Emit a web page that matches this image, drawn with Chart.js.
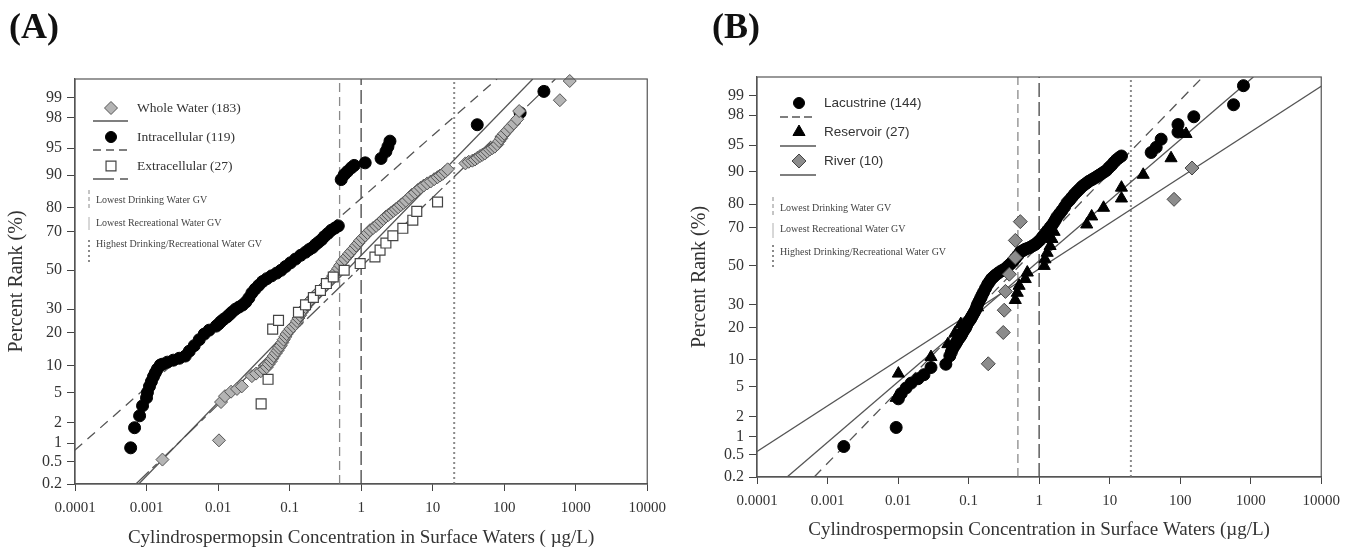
<!DOCTYPE html>
<html>
<head>
<meta charset="utf-8">
<style>
html, body { margin: 0; padding: 0; background: #fff; }
body { width: 1348px; height: 553px; position: relative; overflow: hidden; font-family: 'Liberation Serif', 'Times New Roman', serif; }
.panel { position: absolute; top: 0; }
.tag { position: absolute; top: 6px; font-weight: bold; font-size: 36px; line-height: 40px; color: #111; }
</style>
<script src="https://cdn.jsdelivr.net/npm/chart.js@4.4.1/dist/chart.umd.min.js"></script>
</head>
<body>
<div class="panel" style="left:0;width:674px;height:553px"><canvas id="chartA" width="674" height="553"></canvas></div>
<div class="panel" style="left:680px;width:668px;height:553px"><canvas id="chartB" width="668" height="553"></canvas></div>
<div class="tag" style="left:9px">(A)</div>
<div class="tag" style="left:712px">(B)</div>
<script>
// axis ticks
const yTickPct = [0.2, 0.5, 1, 2, 5, 10, 20, 30, 50, 70, 80, 90, 95, 98, 99];
const yTickLabels = ['0.2', '0.5', '1', '2', '5', '10', '20', '30', '50', '70', '80', '90', '95', '98', '99'];
const yRangePct = [0.2, 99.5];
const xTicks = [0.0001, 0.001, 0.01, 0.1, 1, 10, 100, 1000, 10000];
const xTickLabels = ['0.0001', '0.001', '0.01', '0.1', '1', '10', '100', '1000', '10000'];

// guideline values (ug/L)
const gvValues = [0.5, 1, 20];
const gvLabels = ['Lowest Drinking Water GV', 'Lowest Recreational Water GV', 'Highest Drinking/Recreational Water GV'];

// (A) whole water
const wholeConc = [0.00167, 0.0103, 0.011, 0.0125, 0.0152, 0.0184, 0.0215, 0.0297, 0.034, 0.0396,
    0.044, 0.048, 0.051, 0.0545, 0.057, 0.06, 0.064, 0.068, 0.071, 0.075,
    0.079, 0.0826, 0.087, 0.0908, 0.097, 0.103, 0.112, 0.121, 0.127, 0.133,
    0.14, 0.147, 0.157, 0.167, 0.175, 0.184, 0.2, 0.215, 0.233, 0.253,
    0.275, 0.297, 0.32, 0.348, 0.378, 0.408, 0.44, 0.48, 0.51, 0.545,
    0.59, 0.64, 0.68, 0.726, 0.79, 0.852, 0.91, 0.968, 1.05, 1.14,
    1.23, 1.33, 1.47, 1.62, 1.76, 1.9, 2.05, 2.22, 2.4, 2.61,
    2.83, 3.06, 3.3, 3.59, 3.9, 4.22, 4.65, 5.11, 5.65, 6.19,
    6.8, 7.5, 8.4, 9.38, 10.5, 11.7, 12.7, 13.8, 15, 16.2,
    28.7, 32, 35.9, 39, 42.2, 46, 49.5, 53.5, 58, 63,
    68.1, 74, 80, 85, 90.9, 95, 100, 110, 121, 136,
    152, 162, 600, 825];
const wholePct = [0.54, 1.1, 3.8, 4.5, 5.1, 5.5, 5.9, 7.7, 8.2, 8.7,
    9.1, 9.6, 10.3, 11, 11.7, 12.4, 13.2, 14, 14.8, 15.5,
    16.5, 17.5, 18.5, 19.5, 20.5, 21.5, 22.5, 23.4, 24.7, 26,
    27.2, 28.5, 29.8, 31, 32.2, 33.4, 34.7, 36, 37.2, 38.5,
    39.8, 41, 42.2, 43.5, 45.2, 47, 49, 51, 52.7, 54.5,
    56, 57.5, 58.8, 60, 61.5, 63, 64.2, 65.5, 66.8, 68,
    69.2, 70.5, 71.5, 72.5, 73.5, 74.5, 75.5, 76.5, 77.2, 78,
    78.8, 79.5, 80.2, 81, 81.8, 82.5, 83.5, 84.5, 85.2, 86,
    86.7, 87.3, 87.9, 88.4, 89, 89.5, 89.9, 90.3, 90.8, 91.3,
    92.5, 92.8, 93, 93.2, 93.5, 93.8, 94, 94.2, 94.5, 94.8,
    95, 95.2, 95.5, 95.9, 96.2, 96.5, 96.7, 97, 97.3, 97.6,
    97.9, 98.4, 98.9, 99.46];

// (A) intracellular
const intraConc = [0.0006, 0.00068, 0.0008, 0.00088, 0.001, 0.00103, 0.0011, 0.00117, 0.00125, 0.00133,
    0.00142, 0.00156, 0.00167, 0.00196, 0.00237, 0.00287, 0.00348, 0.00396, 0.00464, 0.00545,
    0.0064, 0.0075, 0.0094, 0.0102, 0.011, 0.012, 0.0133, 0.0144, 0.0156, 0.0175,
    0.0196, 0.022, 0.0245, 0.027, 0.0297, 0.033, 0.0371, 0.042, 0.048, 0.056,
    0.066, 0.076, 0.088, 0.103, 0.121, 0.143, 0.167, 0.188, 0.209, 0.23,
    0.253, 0.28, 0.306, 0.343, 0.383, 0.43, 0.48, 0.527, 0.58, 0.64,
    0.726, 0.8, 1.14, 1.9, 2.22, 2.37, 2.53, 42, 167, 359];
const intraPct = [0.84, 1.7, 2.5, 3.4, 4.3, 5.0, 5.9, 6.7, 7.6, 8.4,
    9.2, 10.1, 10.3, 10.8, 11.3, 11.8, 12.4, 13.8, 15.5, 17.5,
    19.5, 21, 22.6, 23.5, 24.5, 25.5, 26.5, 27.5, 28.6, 30,
    31, 32, 33.5, 35.5, 38, 40, 42, 44, 45.5, 47,
    48.5, 50, 52, 54, 56, 58, 59.6, 61, 62, 63.5,
    64.7, 66, 67.5, 69, 70.5, 71.5, 72.5, 88.9, 90.1, 90.8,
    91.6, 92.1, 92.6, 93.4, 94.5, 95.2, 95.9, 97.5, 98.3, 99.2];

// (A) extracellular
const extraConc = [0.04, 0.05, 0.058, 0.07, 0.133, 0.167, 0.215, 0.27, 0.327, 0.408,
    0.58, 0.97, 1.56, 1.84, 2.22, 2.78, 3.83, 5.28, 6.0, 11.7];
const extraPct = [3.6, 7.1, 21.4, 25, 28.6, 32.1, 35.7, 39.3, 42.9, 46.4,
    50, 53.6, 57.1, 60.7, 64.3, 67.9, 71.4, 75, 78.6, 82.1];

// (B) lacustrine
const lacConc = [0.0017, 0.0094, 0.0101, 0.0111, 0.013, 0.0153, 0.0192, 0.0233, 0.0293, 0.0476,
    0.0542, 0.057, 0.0597, 0.063, 0.0659, 0.068, 0.0703, 0.074, 0.0775, 0.08,
    0.0826, 0.087, 0.091, 0.094, 0.097, 0.102, 0.107, 0.11, 0.114, 0.12,
    0.126, 0.13, 0.134, 0.141, 0.148, 0.155, 0.163, 0.174, 0.186, 0.198,
    0.211, 0.225, 0.24, 0.26, 0.283, 0.308, 0.333, 0.36, 0.391, 0.425,
    0.459, 0.5, 0.541, 0.59, 0.636, 0.69, 0.747, 0.81, 0.878, 0.95,
    1.03, 1.12, 1.21, 1.32, 1.43, 1.53, 1.63, 1.71, 1.79, 1.95,
    2.11, 2.3, 2.48, 2.7, 2.91, 3.15, 3.42, 3.72, 4.03, 4.38,
    4.73, 5.1, 5.56, 6.05, 6.54, 7.1, 7.69, 8.35, 9.04, 9.8,
    10.6, 11.5, 12.5, 13.6, 14.7, 38.8, 45.7, 53.7, 93.1, 93.1,
    156, 571, 789];
const lacPct = [0.69, 1.38, 3.5, 4.1, 4.8, 5.5, 6.2, 6.9, 8.3, 9.0,
    11, 12, 13, 13.8, 14.5, 15, 15.6, 16.3, 17, 17.6,
    18.3, 19.2, 20, 20.9, 21.8, 22.6, 23.5, 24.2, 25, 26.2,
    27.5, 28.7, 30, 31.5, 33, 34.5, 36, 38, 40, 41.5,
    43, 44, 45, 46, 47, 47.8, 48.5, 49.8, 51, 52.5,
    54, 55.8, 57.5, 58.3, 59, 59.5, 60, 60.8, 61.5, 62.6,
    63.8, 65.4, 67, 68.5, 70, 71.2, 72.5, 73.6, 74.8, 76.2,
    77.5, 79, 80.5, 81.5, 82.5, 83.5, 84.4, 85.2, 86, 86.6,
    87.1, 87.6, 88, 88.4, 88.8, 89.2, 89.6, 90, 90.4, 91,
    91.5, 92.1, 92.6, 93, 93.3, 93.9, 94.7, 95.8, 96.6, 97.3,
    97.9, 98.6, 99.3];

// (B) reservoir
const resConc = [0.0094, 0.0101, 0.0293, 0.0508, 0.064, 0.0775, 0.104, 0.134, 0.459, 0.49,
    0.52, 0.636, 0.68, 1.18, 1.21, 1.3, 1.43, 1.52, 1.63, 4.73,
    5.56, 8.2, 14.7, 14.7, 29.9, 74.2, 121];
const resPct = [3.6, 7.1, 10.7, 14.3, 17.9, 21.4, 25, 28.6, 32.1, 35.7,
    39.3, 42.9, 46.4, 50, 53.6, 57.1, 60.7, 64.3, 67.9, 71.4,
    75, 78.6, 82.1, 85.7, 89.3, 92.9, 96.4];

// (B) river
const riverConc = [0.19, 0.31, 0.32, 0.333, 0.378, 0.459, 0.46, 0.541, 81.8, 147];
const riverPct = [9.1, 18.2, 27.3, 36.4, 45.5, 54.5, 63.6, 72.7, 81.8, 90.9];

// fitted lines: z = intercept + slope * log10(conc)
const fitInterceptA = [0.2, 0.967, 0.05];   // whole, intra, extra
const fitSlopeA = [0.99, 0.847, 0.93];
const fitInterceptB = [0.279, 0.07, -0.04]; // lacustrine, reservoir, river
const fitSlopeB = [0.99, 0.825, 0.6225];

// inverse normal cdf (Acklam)
function probit(p) {
    const a = [-3.969683028665376e+01, 2.209460984245205e+02, -2.759285104469687e+02, 1.383577518672690e+02, -3.066479806614716e+01, 2.506628277459239e+00];
    const b = [-5.447609879822406e+01, 1.615858368580409e+02, -1.556989798598866e+02, 6.680131188771972e+01, -1.328068155288572e+01];
    const c = [-7.784894002430293e-03, -3.223964580411365e-01, -2.400758277161838e+00, -2.549732539343734e+00, 4.374664141464968e+00, 2.938163982698783e+00];
    const d = [7.784695709041462e-03, 3.224671290700398e-01, 2.445134137142996e+00, 3.754408661907416e+00];
    const pl = 0.02425;
    let q, r;
    if (p < pl) {
        q = Math.sqrt(-2 * Math.log(p));
        return (((((c[0] * q + c[1]) * q + c[2]) * q + c[3]) * q + c[4]) * q + c[5]) / ((((d[0] * q + d[1]) * q + d[2]) * q + d[3]) * q + 1);
    }
    if (p > 1 - pl) {
        q = Math.sqrt(-2 * Math.log(1 - p));
        return -(((((c[0] * q + c[1]) * q + c[2]) * q + c[3]) * q + c[4]) * q + c[5]) / ((((d[0] * q + d[1]) * q + d[2]) * q + d[3]) * q + 1);
    }
    q = p - 0.5; r = q * q;
    return (((((a[0] * r + a[1]) * r + a[2]) * r + a[3]) * r + a[4]) * r + a[5]) * q / (((((b[0] * r + b[1]) * r + b[2]) * r + b[3]) * r + b[4]) * r + 1);
}

const zMin = probit(yRangePct[0] / 100);
const zMax = probit(yRangePct[1] / 100);

function toPoints(conc, pct) {
    return conc.map((c, i) => ({ x: c, y: probit(pct[i] / 100) }));
}

function fitPoints(a, b) {
    return [{ x: Math.pow(10, (zMin - a) / b), y: zMin }, { x: Math.pow(10, (zMax - a) / b), y: zMax }];
}

function drawMarker(ctx, style, x, y, r, fill, stroke, bw) {
    ctx.beginPath();
    ctx.setLineDash([]);
    if (style === 'circle') {
        ctx.arc(x, y, r, 0, Math.PI * 2);
    } else if (style === 'rectRot') {
        ctx.moveTo(x, y - r); ctx.lineTo(x + r, y); ctx.lineTo(x, y + r); ctx.lineTo(x - r, y); ctx.closePath();
    } else if (style === 'rect') {
        const s = r * Math.SQRT1_2;
        ctx.rect(x - s, y - s, 2 * s, 2 * s);
    } else if (style === 'triangle') {
        ctx.moveTo(x, y - r);
        ctx.lineTo(x + r * Math.sin(2 * Math.PI / 3), y - r * Math.cos(2 * Math.PI / 3));
        ctx.lineTo(x + r * Math.sin(4 * Math.PI / 3), y - r * Math.cos(4 * Math.PI / 3));
        ctx.closePath();
    }
    ctx.fillStyle = fill;
    ctx.fill();
    if (bw) { ctx.lineWidth = bw; ctx.strokeStyle = stroke; ctx.stroke(); }
}

const gvStyles = [
    { color: '#8a8a8a', dash: [9, 5], width: 1.3 },
    { color: '#444', dash: [14, 5], width: 1.3 },
    { color: '#8a8a8a', dash: [2, 3], width: 2 }
];
const gvLegendStyles = [
    { color: '#8a8a8a', dash: [4, 3], width: 1 },
    { color: '#b0b0b0', dash: [], width: 1 },
    { color: '#8a8a8a', dash: [2, 3], width: 2 }
];

// legend + frame
const legendPlugin = {
    id: 'probLegend',
    afterDraw(chart, args, opts) {
        const { ctx, chartArea: ca } = chart;
        ctx.save();
        ctx.setLineDash([]);
        ctx.strokeStyle = '#555';
        ctx.lineWidth = 1.2;
        ctx.strokeRect(ca.left, ca.top, ca.right - ca.left, ca.bottom - ca.top);

        ctx.textAlign = 'left';
        ctx.textBaseline = 'middle';
        opts.items.forEach((it, i) => {
            const y = ca.top + opts.rowTop + i * opts.rowGap;
            drawMarker(ctx, it.style, ca.left + opts.markerX, y, it.legendRadius, it.fill, it.stroke, it.bw);
            ctx.font = opts.font;
            ctx.fillStyle = '#333';
            ctx.fillText(it.name, ca.left + opts.textX, y);
            ctx.beginPath();
            ctx.setLineDash(it.legendDash);
            ctx.strokeStyle = '#555';
            ctx.lineWidth = 1.3;
            const ly = y + opts.lineOffset;
            ctx.moveTo(ca.left + opts.lineX0, ly);
            ctx.lineTo(ca.left + opts.lineX1, ly);
            ctx.stroke();
        });

        gvLabels.forEach((lab, i) => {
            const seg = opts.gvRows[i];
            const st = gvLegendStyles[i];
            ctx.beginPath();
            ctx.setLineDash(st.dash);
            ctx.strokeStyle = st.color;
            ctx.lineWidth = st.width;
            ctx.moveTo(ca.left + opts.gvX, ca.top + seg[0]);
            ctx.lineTo(ca.left + opts.gvX, ca.top + seg[1]);
            ctx.stroke();
            ctx.setLineDash([]);
            ctx.font = "10px 'Liberation Serif', serif";
            ctx.fillStyle = '#444';
            ctx.fillText(lab, ca.left + opts.gvTextX, ca.top + seg[2]);
        });
        ctx.restore();
    }
};

function buildChart(id, cfg) {
    const datasets = [];
    cfg.series.forEach(s => {
        datasets.push({
            label: s.name,
            data: toPoints(s.conc, s.pct),
            showLine: false,
            pointStyle: s.style,
            pointRadius: s.radius,
            pointBackgroundColor: s.fill,
            pointBorderColor: s.stroke,
            pointBorderWidth: s.bw,
            clip: false
        });
    });
    cfg.series.forEach(s => {
        datasets.push({
            label: s.name + ' fit',
            data: fitPoints(s.a, s.b),
            showLine: true,
            pointRadius: 0,
            borderColor: '#555',
            borderWidth: 1.3,
            borderDash: s.lineDash
        });
    });
    gvValues.forEach((v, i) => {
        datasets.push({
            label: gvLabels[i],
            data: [{ x: v, y: zMin }, { x: v, y: zMax }],
            showLine: true,
            pointRadius: 0,
            borderColor: gvStyles[i].color,
            borderWidth: gvStyles[i].width,
            borderDash: gvStyles[i].dash
        });
    });

    return new Chart(document.getElementById(id), {
        type: 'scatter',
        data: { datasets: datasets },
        plugins: [legendPlugin],
        options: {
            responsive: false,
            animation: false,
            events: [],
            layout: { padding: { left: 0, top: cfg.padTop, right: cfg.padRight, bottom: 0 } },
            plugins: {
                legend: { display: false },
                tooltip: { enabled: false },
                probLegend: cfg.legend
            },
            scales: {
                x: {
                    type: 'logarithmic',
                    position: 'bottom',
                    min: xTicks[0],
                    max: xTicks[xTicks.length - 1],
                    afterBuildTicks: s => { s.ticks = xTicks.map(v => ({ value: v })); },
                    afterFit: s => { s.height = cfg.xAxisH; },
                    ticks: {
                        autoSkip: false, maxRotation: 0, padding: 8, color: '#333',
                        font: { size: 15 },
                        callback: (v, i) => xTickLabels[i]
                    },
                    grid: { display: true, drawOnChartArea: false, drawTicks: true, tickLength: 7, color: '#444', lineWidth: 1 },
                    border: { display: true, color: '#555', width: 1.2 },
                    title: {
                        display: true, text: cfg.xTitle, color: '#333',
                        font: { size: 19 }, padding: { top: 0, bottom: cfg.xTitlePad }
                    }
                },
                y: {
                    type: 'linear',
                    min: zMin,
                    max: zMax,
                    afterBuildTicks: s => { s.ticks = yTickPct.map(p => ({ value: probit(p / 100) })); },
                    afterFit: s => { s.width = cfg.yAxisW; },
                    ticks: {
                        autoSkip: false, padding: 5, color: '#333',
                        font: { size: 16 },
                        callback: (v, i) => yTickLabels[i]
                    },
                    grid: { display: true, drawOnChartArea: false, drawTicks: true, tickLength: 8, color: '#444', lineWidth: 1 },
                    border: { display: true, color: '#555', width: 1.2 },
                    title: {
                        display: true, text: 'Percent Rank (%)', color: '#333',
                        font: { size: 20 }, padding: { top: cfg.yTitlePad, bottom: 0 }
                    }
                }
            }
        }
    });
}

Chart.defaults.font.family = "'Liberation Serif', 'Times New Roman', serif";

// draw order: first series ends up on top
const seriesA = [
    { name: 'Extracellular (27)', conc: extraConc, pct: extraPct, style: 'rect', radius: 7, legendRadius: 7, fill: '#ffffff', stroke: '#444', bw: 1.2,
      a: fitInterceptA[2], b: fitSlopeA[2], lineDash: [18, 5, 6, 5], legendDash: [21, 6, 8, 100] },
    { name: 'Whole Water (183)', conc: wholeConc, pct: wholePct, style: 'rectRot', radius: 6.5, legendRadius: 6.5, fill: '#b4b4b4', stroke: '#555', bw: 1,
      a: fitInterceptA[0], b: fitSlopeA[0], lineDash: [], legendDash: [] },
    { name: 'Intracellular (119)', conc: intraConc, pct: intraPct, style: 'circle', radius: 6, legendRadius: 5.5, fill: '#000', stroke: '#000', bw: 1,
      a: fitInterceptA[1], b: fitSlopeA[1], lineDash: [10, 7], legendDash: [8, 5] }
];

const seriesB = [
    { name: 'River (10)', conc: riverConc, pct: riverPct, style: 'rectRot', radius: 7, legendRadius: 7, fill: '#8c8c8c', stroke: '#444', bw: 1,
      a: fitInterceptB[2], b: fitSlopeB[2], lineDash: [], legendDash: [] },
    { name: 'Reservoir (27)', conc: resConc, pct: resPct, style: 'triangle', radius: 7, legendRadius: 7, fill: '#000', stroke: '#000', bw: 1,
      a: fitInterceptB[1], b: fitSlopeB[1], lineDash: [], legendDash: [] },
    { name: 'Lacustrine (144)', conc: lacConc, pct: lacPct, style: 'circle', radius: 6, legendRadius: 5.5, fill: '#000', stroke: '#000', bw: 1,
      a: fitInterceptB[0], b: fitSlopeB[0], lineDash: [10, 7], legendDash: [8, 4] }
];

buildChart('chartA', {
    series: seriesA,
    padTop: 79, padRight: 22, yAxisW: 75, xAxisH: 69,
    xTitle: 'Cylindrospermopsin Concentration in Surface Waters ( \u00b5g/L)',
    xTitlePad: 4, yTitlePad: 5,
    legend: {
        items: [seriesA[1], seriesA[2], seriesA[0]],
        font: "13.5px 'Liberation Serif', serif",
        rowTop: 29, rowGap: 29, markerX: 36, textX: 62, lineOffset: 13, lineX0: 18, lineX1: 53,
        gvX: 14, gvTextX: 21,
        gvRows: [[111, 129, 121], [138, 151, 144], [161, 183, 165]]
    }
});

buildChart('chartB', {
    series: seriesB,
    padTop: 77, padRight: 22, yAxisW: 77, xAxisH: 76,
    xTitle: 'Cylindrospermopsin Concentration in Surface Waters (\u00b5g/L)',
    xTitlePad: 12, yTitlePad: 8,
    legend: {
        items: [seriesB[2], seriesB[1], seriesB[0]],
        font: "13.5px 'Liberation Sans', Arial, sans-serif",
        rowTop: 26, rowGap: 29, markerX: 42, textX: 67, lineOffset: 14, lineX0: 23, lineX1: 59,
        gvX: 16, gvTextX: 23,
        gvRows: [[120, 140, 131], [146, 161, 152], [168, 193, 175]]
    }
});
</script>
</body>
</html>
